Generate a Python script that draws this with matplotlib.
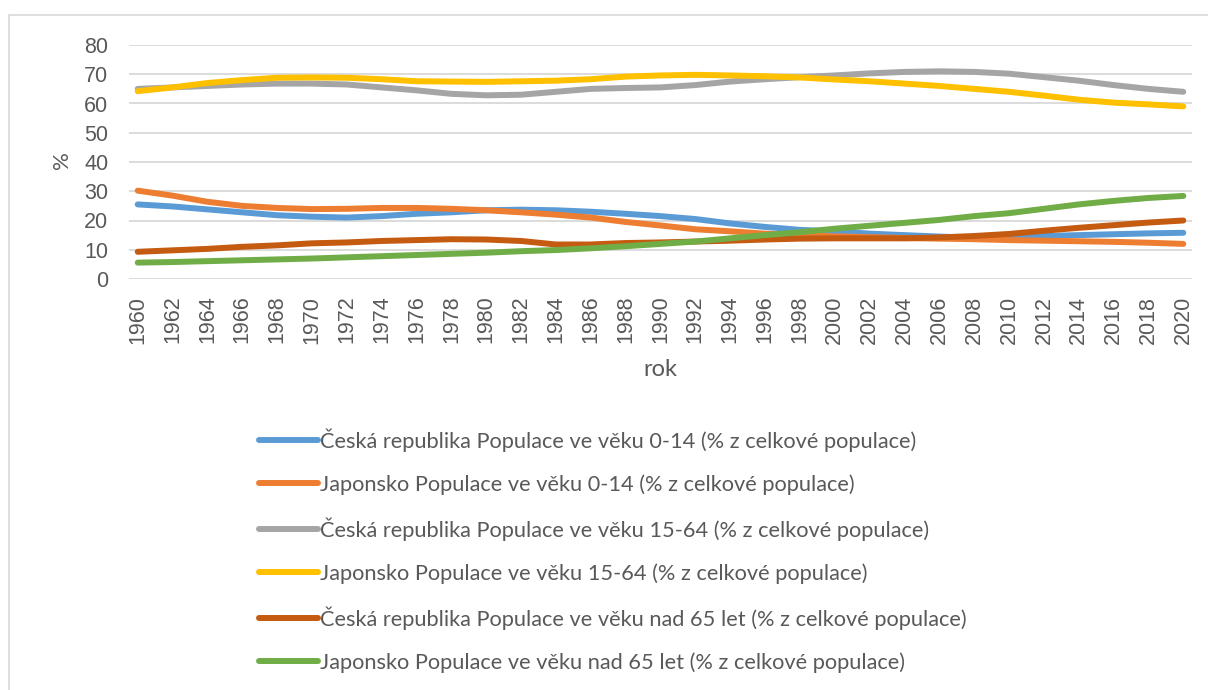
import numpy as np
import matplotlib.pyplot as plt
from matplotlib.patches import Rectangle

# years read every 2 years off the chart
years = list(range(1960, 2021, 2))

cz_0_14 = [25.5, 24.8, 23.8, 22.8, 21.8, 21.3, 21.0, 21.5, 22.3, 22.8, 23.5, 23.7,
           23.5, 23.0, 22.3, 21.5, 20.5, 19.0, 17.8, 16.8, 16.3, 15.5, 15.0, 14.5,
           14.1, 14.3, 14.7, 15.0, 15.3, 15.6, 15.8]
jp_0_14 = [30.2, 28.5, 26.4, 25.0, 24.3, 23.9, 24.0, 24.3, 24.3, 24.0, 23.5, 22.8,
           22.0, 21.0, 19.5, 18.3, 17.0, 16.3, 15.5, 15.0, 14.6, 14.3, 14.0, 13.8,
           13.6, 13.3, 13.1, 12.9, 12.7, 12.4, 12.0]
cz_15_64 = [65.0, 65.5, 66.0, 66.5, 66.8, 66.8, 66.5, 65.5, 64.5, 63.3, 62.8, 63.0,
            64.0, 65.0, 65.3, 65.5, 66.3, 67.5, 68.3, 69.0, 69.6, 70.3, 70.8, 71.0,
            70.8, 70.2, 69.0, 67.8, 66.3, 65.0, 64.0]
jp_15_64 = [64.2, 65.5, 67.0, 68.0, 68.8, 68.9, 68.8, 68.3, 67.6, 67.5, 67.4, 67.6,
            67.8, 68.3, 69.2, 69.6, 69.8, 69.6, 69.3, 68.9, 68.2, 67.6, 66.8, 66.0,
            65.0, 64.0, 62.7, 61.3, 60.3, 59.7, 59.0]
cz_65 = [9.3, 9.8, 10.3, 11.0, 11.5, 12.2, 12.5, 13.0, 13.3, 13.6, 13.5, 13.0,
         11.8, 11.8, 12.3, 12.5, 12.8, 13.1, 13.5, 13.8, 13.9, 13.9, 13.9, 14.2,
         14.7, 15.4, 16.5, 17.5, 18.4, 19.3, 20.0]
jp_65 = [5.6, 5.8, 6.1, 6.4, 6.7, 7.0, 7.4, 7.8, 8.2, 8.6, 9.0, 9.5,
         9.9, 10.5, 11.2, 12.0, 12.8, 13.9, 15.0, 16.0, 17.2, 18.2, 19.2, 20.2,
         21.5, 22.5, 24.0, 25.5, 26.7, 27.7, 28.4]

labels = [
    "Česká republika Populace ve věku 0-14 (% z celkové populace)",
    "Japonsko Populace ve věku 0-14 (% z celkové populace)",
    "Česká republika Populace ve věku 15-64 (% z celkové populace)",
    "Japonsko Populace ve věku 15-64 (% z celkové populace)",
    "Česká republika Populace ve věku nad 65 let (% z celkové populace)",
    "Japonsko Populace ve věku nad 65 let (% z celkové populace)",
]
colors = ["#5B9BD5", "#ED7D31", "#A5A5A5", "#FFC000", "#C55A11", "#70AD47"]
series = [cz_0_14, jp_0_14, cz_15_64, jp_15_64, cz_65, jp_65]

txt = "#595959"
W, H = 1208, 690
fig = plt.figure(figsize=(W / 100, H / 100), dpi=100)

# chart area border
fig.patches.append(Rectangle((9 / W, -0.05), 1.1, 1 - 15 / H + 0.05,
                             transform=fig.transFigure, fill=False,
                             edgecolor="#D9D9D9", lw=1.2))

ax = fig.add_axes([129 / W, 1 - 279 / H, (1192 - 129) / W, (279 - 45) / H])

for vals, col, lab in zip(series, colors, labels):
    ax.plot(years, vals, color=col, lw=4.3, label=lab,
            solid_capstyle="round", solid_joinstyle="round")

ax.set_xlim(1959.5, 2020.5)
ax.set_ylim(0, 80)
ax.set_yticks(range(0, 81, 10))
ax.set_xticks(years)
ax.set_xticklabels([str(y) for y in years], rotation=90,
                   fontfamily="Liberation Sans", fontsize=15.5)
for t in ax.get_yticklabels():
    t.set_fontfamily("Liberation Sans")
    t.set_fontsize(15.5)
ax.tick_params(axis="both", length=0, colors=txt)
ax.tick_params(axis="y", pad=15)
ax.tick_params(axis="x", pad=12)
ax.grid(axis="y", color="#D9D9D9", lw=1.3)
ax.set_axisbelow(True)
for s in ax.spines.values():
    s.set_visible(False)

fig.text(62 / W, 1 - 160 / H, "%", rotation=90, ha="center", va="center",
         fontsize=16, color=txt, fontfamily="Lato")
fig.text(660 / W, 1 - 369 / H, "rok", ha="center", va="center",
         fontsize=17, color=txt, fontfamily="Lato")

leg = fig.legend(loc="upper left", bbox_to_anchor=(259 / W, 1 - 428 / H),
                 frameon=False, borderpad=0, borderaxespad=0,
                 handlelength=2.7, handletextpad=0.1, labelspacing=1.03,
                 prop={"family": "Lato", "size": 15.7})
for t in leg.get_texts():
    t.set_color(txt)

fig.savefig("out.png", dpi=100)
